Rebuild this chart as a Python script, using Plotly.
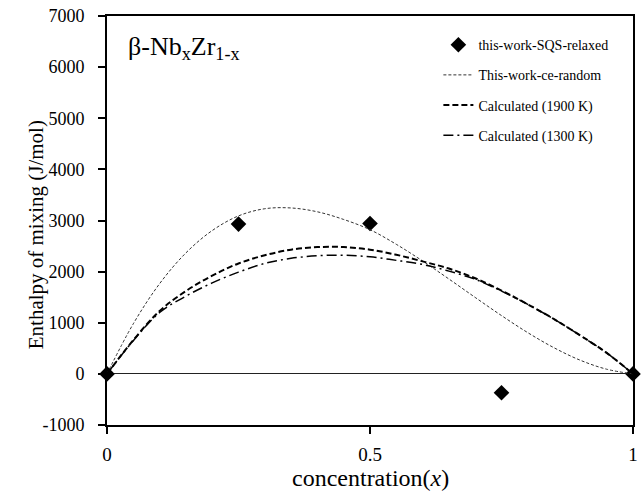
import plotly.graph_objects as go

# SQS relaxed points
sqs_x = [0.0, 0.25, 0.5, 0.75, 1.0]
sqs_y = [0, 2930, 2940, -370, 0]

# curves
curve_x = [0.0, 0.05, 0.1, 0.15, 0.2, 0.25, 0.3, 0.35, 0.4, 0.45, 0.5,
           0.55, 0.6, 0.65, 0.7, 0.75, 0.8, 0.85, 0.9, 0.95, 1.0]
ce_random = [0, 980, 1764, 2366, 2803, 3090, 3230, 3245, 3170, 3020, 2820,
             2534, 2208, 1856, 1495, 1140, 806, 510, 266, 91, 0]
calc_1900 = [0, 660, 1230, 1620, 1920, 2160, 2320, 2430, 2480, 2480, 2430,
             2330, 2200, 2060, 1870, 1630, 1360, 1070, 750, 410, 0]
calc_1300 = [0, 650, 1200, 1520, 1780, 1990, 2160, 2260, 2310, 2320, 2290,
             2220, 2140, 2010, 1850, 1620, 1360, 1070, 750, 410, 0]

y_ticks = [-1000, 0, 1000, 2000, 3000, 4000, 5000, 6000, 7000]
y_tick_text = ["-1000", "0", "1000", "2000", "3000", "4000", "5000", "6000", "7000"]
x_ticks = [0, 0.5, 1]
x_tick_text = ["0", "0.5", "1"]

FONT = "Liberation Serif, Times New Roman, serif"

fig = go.Figure()
fig.add_trace(go.Scatter(x=sqs_x, y=sqs_y, mode="markers", name="this-work-SQS-relaxed",
                         marker=dict(symbol="diamond", size=12, color="black"),
                         cliponaxis=False, legendgroup="a"))
fig.add_trace(go.Scatter(x=curve_x, y=ce_random, mode="lines", name="This-work-ce-random",
                         line=dict(color="#333333", width=1, dash="3px,2px", shape="spline"),
                         legendgroup="b"))
fig.add_trace(go.Scatter(x=curve_x, y=calc_1900, mode="lines", name="Calculated (1900 K)",
                         line=dict(color="black", width=2, dash="6px,3px", shape="spline"),
                         legendgroup="c"))
fig.add_trace(go.Scatter(x=curve_x, y=calc_1300, mode="lines", name="Calculated (1300 K)",
                         line=dict(color="black", width=1.5, dash="10px,4px,2px,4px", shape="spline"),
                         legendgroup="d"))

fig.add_annotation(x=0.037, y=0.922, xref="paper", yref="paper", xanchor="left", yanchor="middle",
                   text="β-Nb<sub>x</sub>Zr<sub>1-x</sub>", showarrow=False,
                   font=dict(family=FONT, size=26, color="black"))

# axis titles as annotations for exact placement
fig.add_annotation(x=-0.136, y=0.465, xref="paper", yref="paper", xanchor="center", yanchor="middle",
                   text="Enthalpy of mixing (J/mol)", textangle=-90, showarrow=False,
                   font=dict(family=FONT, size=21, color="black"))
fig.add_annotation(x=0.5, y=-0.13, xref="paper", yref="paper", xanchor="center", yanchor="middle",
                   text="concentration(<i>x</i>)", showarrow=False,
                   font=dict(family=FONT, size=24, color="black"))

fig.update_layout(
    width=644, height=494,
    margin=dict(l=107, r=6, t=16, b=69),
    paper_bgcolor="white", plot_bgcolor="white",
    font=dict(family=FONT, size=18, color="black"),
    showlegend=True,
    legend=dict(x=0.63, y=0.968, xanchor="left", yanchor="top", bgcolor="rgba(0,0,0,0)",
                font=dict(family=FONT, size=14, color="black"), tracegroupgap=9,
                itemwidth=30),
    xaxis=dict(range=[0, 1], tickvals=x_ticks, ticktext=x_tick_text,
               showgrid=False, zeroline=False, showline=True, linecolor="black", linewidth=2,
               mirror=True, ticks="outside", ticklen=7, tickwidth=2, tickcolor="black",
               ticklabelstandoff=4,
               tickfont=dict(family=FONT, size=19)),
    yaxis=dict(range=[-1000, 7000], tickvals=y_ticks, ticktext=y_tick_text,
               showgrid=False, zeroline=True, zerolinecolor="#222222", zerolinewidth=1,
               showline=True, linecolor="black", linewidth=2,
               mirror=True, ticks="outside", ticklen=7, tickwidth=2, tickcolor="black",
               ticklabelstandoff=10,
               tickfont=dict(family=FONT, size=18)),
)

fig.write_html("out.html")
